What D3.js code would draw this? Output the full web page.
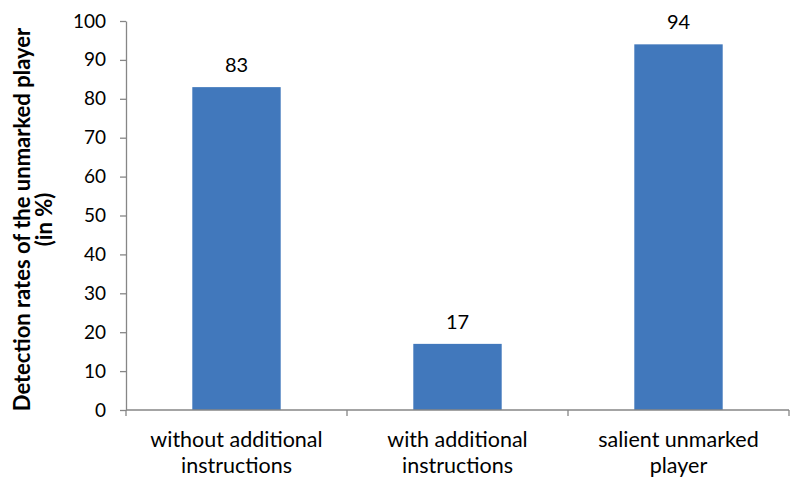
<!DOCTYPE html>
<html>
<head>
<meta charset="utf-8">
<script src="https://cdn.jsdelivr.net/npm/d3@7/dist/d3.min.js"></script>
<style>
  html, body { margin: 0; padding: 0; background: #fff; }
  svg { display: block; }
  text { font-family: Lato, "Open Sans", sans-serif; fill: #000; }
</style>
</head>
<body>
<svg id="chart" width="790" height="479"></svg>
<script>
// Detection rates per condition
const categories = [
  ["without additional", "instructions"],
  ["with additional", "instructions"],
  ["salient unmarked", "player"]
];
const values = [83, 17, 94];
const yTicks = [0, 10, 20, 30, 40, 50, 60, 70, 80, 90, 100];
const yTitle = ["Detection rates of the unmarked player", "(in %)"];

const svg = d3.select("#chart");
const margin = { left: 126, right: 1, top: 21, bottom: 69 };
const W = 790, H = 479;

// One band per category; bars take the middle 40% of each band
const xOuter = d3.scaleBand()
  .domain(d3.range(categories.length))
  .range([margin.left, W - margin.right]);

const y = d3.scaleLinear()
  .domain([0, 100])
  .range([H - margin.bottom, margin.top]);

const axisColor = "#868686";

// Bars
svg.append("g").selectAll("rect")
  .data(values)
  .join("rect")
  .attr("x", (d, i) => xOuter(i) + xOuter.bandwidth() * 0.3)
  .attr("width", xOuter.bandwidth() * 0.4)
  .attr("y", d => y(d))
  .attr("height", d => y(0) - y(d))
  .attr("fill", "#4178BC");

// Y axis
const yAxis = svg.append("g")
  .attr("transform", `translate(${margin.left},0)`)
  .call(d3.axisLeft(y).tickValues(yTicks).tickSize(6).tickPadding(14).tickSizeOuter(0));
yAxis.select(".domain").attr("stroke", axisColor).attr("stroke-width", 1.3);
yAxis.selectAll(".tick line").attr("stroke", axisColor).attr("stroke-width", 1.3);
yAxis.selectAll(".tick text")
  .style("font-size", "19px")
  .attr("fill", "#000");

// X axis baseline with tick marks at category boundaries
const xAxisG = svg.append("g").attr("transform", `translate(0,${y(0)})`);
xAxisG.append("line")
  .attr("x1", margin.left).attr("x2", W - margin.right)
  .attr("stroke", axisColor).attr("stroke-width", 1.3);
const bounds = d3.range(categories.length + 1).map(i =>
  i < categories.length ? xOuter(i) : xOuter(i - 1) + xOuter.bandwidth());
xAxisG.selectAll("line.tk")
  .data(bounds)
  .join("line")
  .attr("class", "tk")
  .attr("x1", d => d).attr("x2", d => d)
  .attr("y1", 0).attr("y2", 6)
  .attr("stroke", axisColor).attr("stroke-width", 1.3);

// Category labels (two lines each)
svg.append("g").selectAll("text")
  .data(categories)
  .join("text")
  .attr("text-anchor", "middle")
  .attr("x", (d, i) => xOuter(i) + xOuter.bandwidth() / 2)
  .attr("y", y(0) + 37)
  .style("font-size", "21.5px")
  .selectAll("tspan")
  .data(d => d)
  .join("tspan")
  .attr("x", function () { return d3.select(this.parentNode).attr("x"); })
  .attr("dy", (d, j) => j === 0 ? 0 : 26)
  .text(d => d);

// Value labels above bars
svg.append("g").selectAll("text")
  .data(values)
  .join("text")
  .attr("text-anchor", "middle")
  .attr("x", (d, i) => xOuter(i) + xOuter.bandwidth() / 2)
  .attr("y", d => y(d) - 15)
  .style("font-size", "20px")
  .text(d => d);

// Y axis title
svg.append("text")
  .attr("transform", `translate(30,${(y(0) + y(100)) / 2 + 4}) rotate(-90)`)
  .attr("text-anchor", "middle")
  .style("font-size", "22px")
  .style("font-weight", "bold")
  .selectAll("tspan")
  .data(yTitle)
  .join("tspan")
  .attr("x", 0)
  .attr("dy", (d, j) => j === 0 ? 0 : 22)
  .text(d => d);
</script>
</body>
</html>
